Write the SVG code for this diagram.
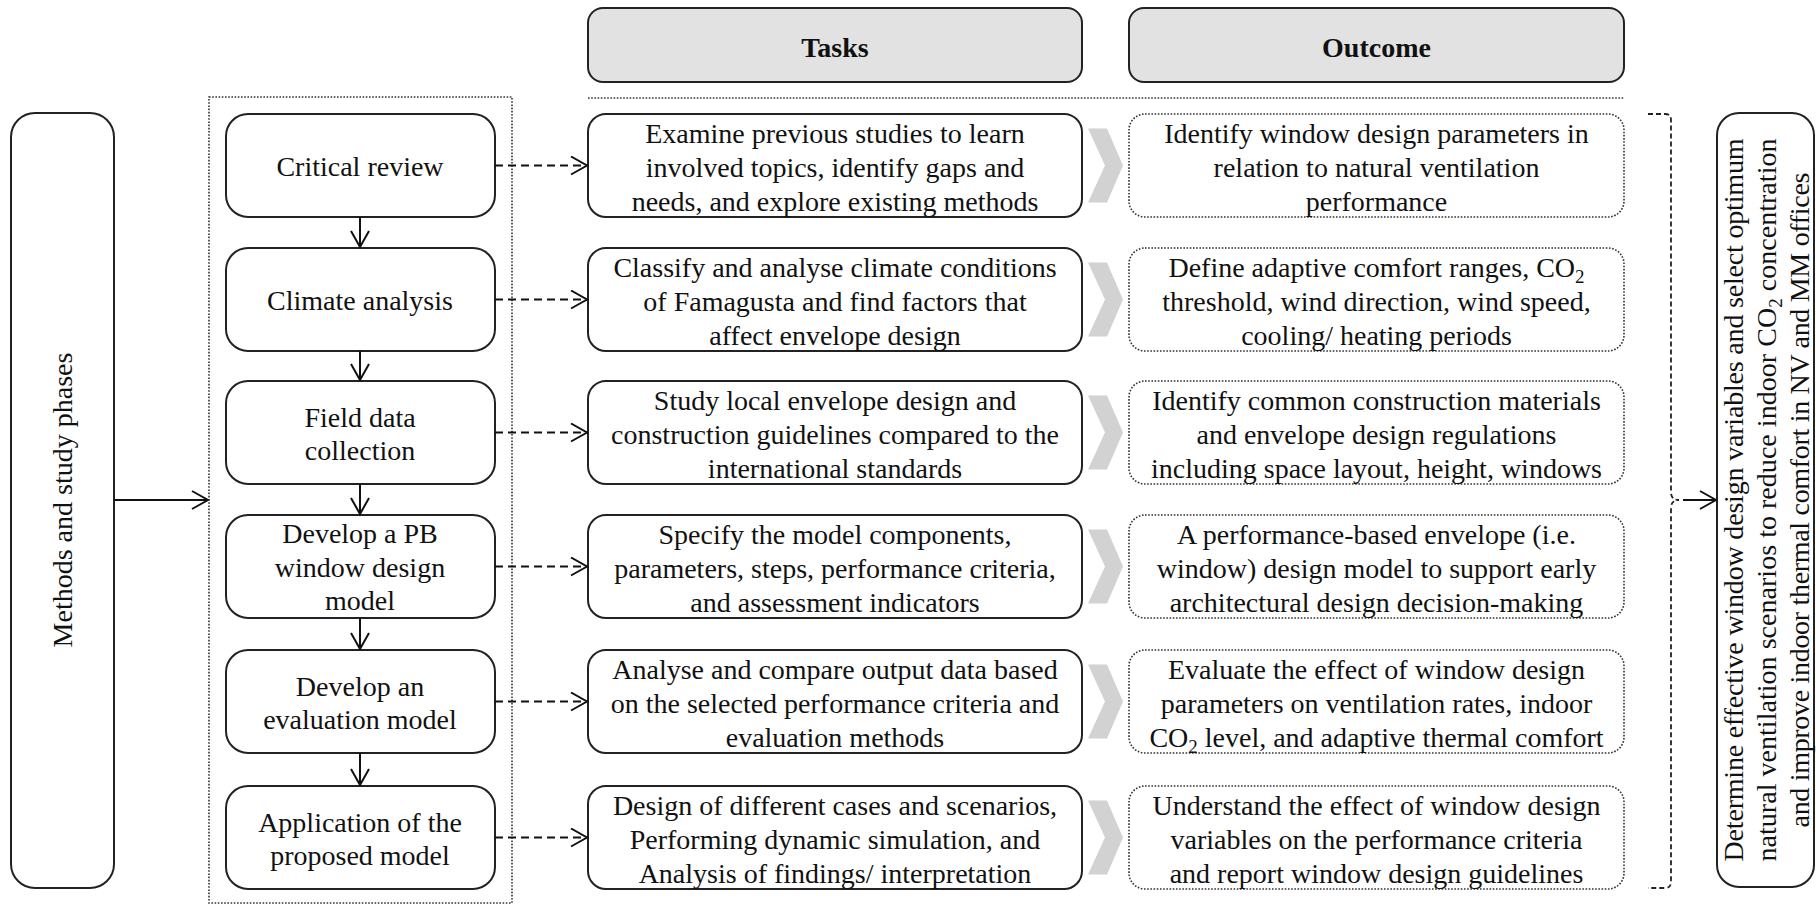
<svg xmlns="http://www.w3.org/2000/svg" width="1816" height="905" viewBox="0 0 1816 905">
  <style>
    text { font-family: "Liberation Serif", "Times New Roman", serif; font-size: 28px; fill: #111; }
    .c { text-anchor: middle; }
    .b { font-weight: bold; }
    .sub { font-size: 19px; }
    .hdr { fill: #e2e2e2; stroke: #222; stroke-width: 2; }
    .box { fill: #fff; stroke: #222; stroke-width: 2; }
    .dot { fill: none; stroke: #333; stroke-width: 1.6; stroke-dasharray: 1.6 1.6; }
    .solid { fill: none; stroke: #111; stroke-width: 2; }
    .dash { fill: none; stroke: #111; stroke-width: 2; stroke-dasharray: 8 5; }
    .brace { fill: none; stroke: #222; stroke-width: 1.8; stroke-dasharray: 5 3; }
    .chev { fill: #d2d2d2; }
  </style>
  <defs>
    <marker id="open" viewBox="0 0 20 20" refX="18" refY="10" markerWidth="20" markerHeight="20" markerUnits="userSpaceOnUse" orient="auto">
      <path d="M2,1 L18,10 L2,19" fill="none" stroke="#111" stroke-width="2" stroke-dasharray="none"/>
    </marker>
  </defs>

  <rect width="1816" height="905" fill="#fff"/>

  <!-- column headers -->
  <g id="hdr-tasks">
    <rect class="hdr" x="588" y="8" width="494" height="74" rx="15"/>
    <text class="c b" x="835" y="57">Tasks</text>
  </g>
  <g id="hdr-outcome">
    <rect class="hdr" x="1129" y="8" width="495" height="74" rx="15"/>
    <text class="c b" x="1376.5" y="57">Outcome</text>
  </g>
  <line class="dot" x1="588" y1="98" x2="1624" y2="98"/>

  <!-- left side: methods -->
  <g id="methods">
    <rect class="box" x="11" y="113" width="103" height="775" rx="24"/>
    <text class="c" transform="translate(72,500) rotate(-90)" x="0" y="0">Methods and study phases</text>
  </g>

  <!-- phases container -->
  <rect id="phases" class="dot" x="209" y="97" width="303" height="806"/>

  <g id="phase-1">
    <rect class="box" x="226" y="114" width="269" height="103" rx="22"/>
    <text class="c" x="360" y="175.5">Critical review</text>
  </g>
  <g id="phase-2">
    <rect class="box" x="226" y="248" width="269" height="103" rx="22"/>
    <text class="c" x="360" y="309.5">Climate analysis</text>
  </g>
  <g id="phase-3">
    <rect class="box" x="226" y="381" width="269" height="103" rx="22"/>
    <text class="c" x="360" y="427">Field data</text>
    <text class="c" x="360" y="460">collection</text>
  </g>
  <g id="phase-4">
    <rect class="box" x="226" y="515" width="269" height="103" rx="22"/>
    <text class="c" x="360" y="543">Develop a PB</text>
    <text class="c" x="360" y="577">window design</text>
    <text class="c" x="360" y="610">model</text>
  </g>
  <g id="phase-5">
    <rect class="box" x="226" y="650" width="269" height="103" rx="22"/>
    <text class="c" x="360" y="696">Develop an</text>
    <text class="c" x="360" y="729">evaluation model</text>
  </g>
  <g id="phase-6">
    <rect class="box" x="226" y="786" width="269" height="103" rx="22"/>
    <text class="c" x="360" y="832">Application of the</text>
    <text class="c" x="360" y="865">proposed model</text>
  </g>

  <!-- tasks -->
  <g id="task-1">
    <rect class="box" x="588" y="114" width="494" height="103" rx="18"/>
    <text class="c" x="835" y="142.5">Examine previous studies to learn</text>
    <text class="c" x="835" y="176.5">involved topics, identify gaps and</text>
    <text class="c" x="835" y="210.5">needs, and explore existing methods</text>
  </g>
  <g id="task-2">
    <rect class="box" x="588" y="248" width="494" height="103" rx="18"/>
    <text class="c" x="835" y="276.5">Classify and analyse climate conditions</text>
    <text class="c" x="835" y="310.5">of Famagusta and find factors that</text>
    <text class="c" x="835" y="344.5">affect envelope design</text>
  </g>
  <g id="task-3">
    <rect class="box" x="588" y="381" width="494" height="103" rx="18"/>
    <text class="c" x="835" y="409.5">Study local envelope design and</text>
    <text class="c" x="835" y="443.5">construction guidelines compared to the</text>
    <text class="c" x="835" y="477.5">international standards</text>
  </g>
  <g id="task-4">
    <rect class="box" x="588" y="515" width="494" height="103" rx="18"/>
    <text class="c" x="835" y="543.5">Specify the model components,</text>
    <text class="c" x="835" y="577.5">parameters, steps, performance criteria,</text>
    <text class="c" x="835" y="611.5">and assessment indicators</text>
  </g>
  <g id="task-5">
    <rect class="box" x="588" y="650" width="494" height="103" rx="18"/>
    <text class="c" x="835" y="678.5">Analyse and compare output data based</text>
    <text class="c" x="835" y="712.5">on the selected performance criteria and</text>
    <text class="c" x="835" y="746.5">evaluation methods</text>
  </g>
  <g id="task-6">
    <rect class="box" x="588" y="786" width="494" height="103" rx="18"/>
    <text class="c" x="835" y="814.5">Design of different cases and scenarios,</text>
    <text class="c" x="835" y="848.5">Performing dynamic simulation, and</text>
    <text class="c" x="835" y="882.5">Analysis of findings/ interpretation</text>
  </g>

  <!-- chevrons between tasks and outcomes -->
  <g id="chevrons">
    <polygon class="chev" points="1088,128.5 1107,128.5 1123,165.5 1107,202.5 1088,202.5 1105,165.5"/>
    <polygon class="chev" points="1088,262.5 1107,262.5 1123,299.5 1107,336.5 1088,336.5 1105,299.5"/>
    <polygon class="chev" points="1088,395.5 1107,395.5 1123,432.5 1107,469.5 1088,469.5 1105,432.5"/>
    <polygon class="chev" points="1088,529.5 1107,529.5 1123,566.5 1107,603.5 1088,603.5 1105,566.5"/>
    <polygon class="chev" points="1088,664.5 1107,664.5 1123,701.5 1107,738.5 1088,738.5 1105,701.5"/>
    <polygon class="chev" points="1088,800.5 1107,800.5 1123,837.5 1107,874.5 1088,874.5 1105,837.5"/>
  </g>

  <!-- outcomes -->
  <g id="outcome-1">
    <rect class="dot" x="1129" y="114" width="495" height="103" rx="16"/>
    <text class="c" x="1376.5" y="142.5">Identify window design parameters in</text>
    <text class="c" x="1376.5" y="176.5">relation to natural ventilation</text>
    <text class="c" x="1376.5" y="210.5">performance</text>
  </g>
  <g id="outcome-2">
    <rect class="dot" x="1129" y="248" width="495" height="103" rx="16"/>
    <text class="c" x="1376.5" y="276.5">Define adaptive comfort ranges, CO<tspan class="sub" dy="6">2</tspan></text>
    <text class="c" x="1376.5" y="310.5">threshold, wind direction, wind speed,</text>
    <text class="c" x="1376.5" y="344.5">cooling/ heating periods</text>
  </g>
  <g id="outcome-3">
    <rect class="dot" x="1129" y="381" width="495" height="103" rx="16"/>
    <text class="c" x="1376.5" y="409.5">Identify common construction materials</text>
    <text class="c" x="1376.5" y="443.5">and envelope design regulations</text>
    <text class="c" x="1376.5" y="477.5">including space layout, height, windows</text>
  </g>
  <g id="outcome-4">
    <rect class="dot" x="1129" y="515" width="495" height="103" rx="16"/>
    <text class="c" x="1376.5" y="543.5">A performance-based envelope (i.e.</text>
    <text class="c" x="1376.5" y="577.5">window) design model to support early</text>
    <text class="c" x="1376.5" y="611.5">architectural design decision-making</text>
  </g>
  <g id="outcome-5">
    <rect class="dot" x="1129" y="650" width="495" height="103" rx="16"/>
    <text class="c" x="1376.5" y="678.5">Evaluate the effect of window design</text>
    <text class="c" x="1376.5" y="712.5">parameters on ventilation rates, indoor</text>
    <text class="c" x="1376.5" y="746.5">CO<tspan class="sub" dy="6">2</tspan><tspan dy="-6"> level, and adaptive thermal comfort</tspan></text>
  </g>
  <g id="outcome-6">
    <rect class="dot" x="1129" y="786" width="495" height="103" rx="16"/>
    <text class="c" x="1376.5" y="814.5">Understand the effect of window design</text>
    <text class="c" x="1376.5" y="848.5">variables on the performance criteria</text>
    <text class="c" x="1376.5" y="882.5">and report window design guidelines</text>
  </g>

  <!-- goal -->
  <g id="goal">
    <rect class="box" x="1717" y="113" width="97" height="774" rx="22"/>
    <g transform="translate(0,500) rotate(-90)">
      <text class="c" x="0" y="1743" textLength="723" lengthAdjust="spacing">Determine effective window design variables and select optimum</text>
      <text class="c" x="0" y="1776" textLength="723" lengthAdjust="spacing">natural ventilation scenarios to reduce indoor CO<tspan class="sub" dy="6">2</tspan><tspan dy="-6"> concentration</tspan></text>
      <text class="c" x="0" y="1809" textLength="655" lengthAdjust="spacing">and improve indoor thermal comfort in NV and MM offices</text>
    </g>
  </g>

  <!-- connectors -->
  <g id="connectors">
    <line class="solid" x1="114" y1="500" x2="208" y2="500" marker-end="url(#open)"/>
    <line class="solid" x1="360" y1="217" x2="360" y2="247" marker-end="url(#open)"/>
    <line class="solid" x1="360" y1="351" x2="360" y2="380" marker-end="url(#open)"/>
    <line class="solid" x1="360" y1="484" x2="360" y2="514" marker-end="url(#open)"/>
    <line class="solid" x1="360" y1="618" x2="360" y2="649" marker-end="url(#open)"/>
    <line class="solid" x1="360" y1="753" x2="360" y2="785" marker-end="url(#open)"/>
    <line class="dash" x1="495" y1="165.5" x2="587" y2="165.5" marker-end="url(#open)"/>
    <line class="dash" x1="495" y1="299.5" x2="587" y2="299.5" marker-end="url(#open)"/>
    <line class="dash" x1="495" y1="432.5" x2="587" y2="432.5" marker-end="url(#open)"/>
    <line class="dash" x1="495" y1="566.5" x2="587" y2="566.5" marker-end="url(#open)"/>
    <line class="dash" x1="495" y1="701.5" x2="587" y2="701.5" marker-end="url(#open)"/>
    <line class="dash" x1="495" y1="837.5" x2="587" y2="837.5" marker-end="url(#open)"/>
    <path class="brace" d="M1648,114 L1665,114 Q1671,114 1671,120 L1671,492 Q1671,500 1679,500 Q1671,500 1671,508 L1671,882 Q1671,888 1665,888 L1648,888"/>
    <line class="solid" x1="1683" y1="500" x2="1716" y2="500" marker-end="url(#open)"/>
  </g>
</svg>
